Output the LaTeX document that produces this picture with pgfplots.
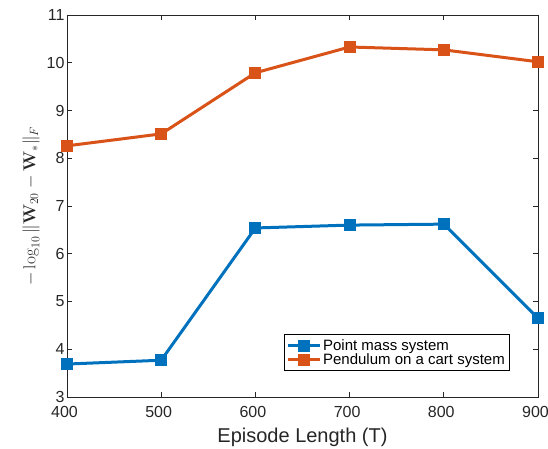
\documentclass[border=0pt]{standalone}
\usepackage[no-math]{fontspec}
\setmainfont{Liberation Sans}
\usepackage{pgfplots}
\pgfplotsset{compat=1.18}
\definecolor{mblue}{rgb}{0,0.447,0.741}
\definecolor{morange}{rgb}{0.85,0.325,0.098}
\definecolor{mgray}{rgb}{0.15,0.15,0.15}
\begin{document}
\begin{tikzpicture}
\begin{axis}[
  scale only axis, width=471pt, height=382pt,
  xmin=400, xmax=900, ymin=3, ymax=11,
  xtick={400,500,...,900}, ytick={3,4,...,11},
  tick align=inside, major tick length=5pt,
  axis line style={mgray, line width=0.8pt},
  every tick/.style={mgray, line width=0.8pt},
  tick label style={font=\fontsize{16}{18}\selectfont, text=mgray},
  xticklabel style={yshift=-6pt, xshift=-2.5pt},
  yticklabel style={xshift=1pt},
  /pgf/number format/assume math mode=true,
  /pgf/number format/1000 sep={},
  xlabel={Episode Length (T)},
  xlabel style={font=\fontsize{20}{22}\selectfont, text=mgray, yshift=-3pt},
  ylabel={$-\log_{10}\|\mathbf{W}_{20}-\mathbf{W}_*\|_F$},
  ylabel style={font=\fontsize{18}{20}\selectfont, text=mgray, yshift=0pt},
  legend style={at={(0.94,0.068)}, anchor=south east, draw=black, line width=0.8pt,
    font=\fontsize{15}{16}\selectfont, inner sep=2.5pt, row sep=-2pt},
  legend cell align=left,
  legend image code/.code={\draw[mark repeat=2,mark phase=2] plot coordinates {(0cm,0cm) (0.55cm,0cm) (1.1cm,0cm)};},
]
\addplot[color=mblue, line width=3pt, mark=square*, mark size=4.5pt, mark options={solid}]
  coordinates {(400,3.69) (500,3.77) (600,6.54) (700,6.60) (800,6.62) (900,4.65)};
\addlegendentry{Point mass system}
\addplot[color=morange, line width=3pt, mark=square*, mark size=4.5pt, mark options={solid}]
  coordinates {(400,8.26) (500,8.51) (600,9.79) (700,10.33) (800,10.27) (900,10.02)};
\addlegendentry{Pendulum on a cart system}
\end{axis}
\pgfresetboundingbox
\path[use as bounding box] (-67pt,-52pt) rectangle (481pt,397pt);
\end{tikzpicture}
\end{document}
